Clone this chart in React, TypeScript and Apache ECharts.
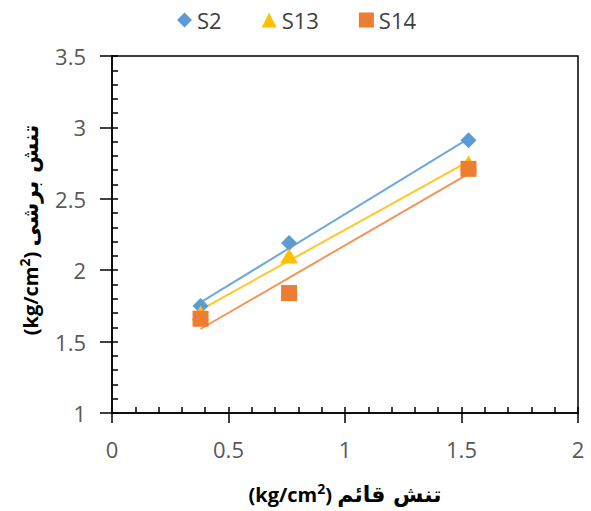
import React, { useEffect, useRef } from "react";
import * as echarts from "echarts";

const normalStress = [0.38, 0.76, 1.53];
const s2Values = [1.75, 2.19, 2.91];
const s13Values = [1.7, 2.1, 2.75];
const s14Values = [1.66, 1.84, 2.71];
const seriesNames = ["S2", "S13", "S14"];
const colors = ["#5B9BD5", "#FFC000", "#ED7D31"];
const lineColors = ["#6FA8DC", "#FFC729", "#F0955A"];
const xTitleParts = ["(kg/cm", "2", ") ", "تنش قائم"];
const yTitleParts = ["(kg/cm", "2", ") ", "تنش برشی"];

function regression(xs: number[], ys: number[]) {
  const n = xs.length;
  const mx = xs.reduce((a, b) => a + b, 0) / n;
  const my = ys.reduce((a, b) => a + b, 0) / n;
  let sxy = 0;
  let sxx = 0;
  for (let i = 0; i < n; i++) {
    sxy += (xs[i] - mx) * (ys[i] - my);
    sxx += (xs[i] - mx) * (xs[i] - mx);
  }
  const slope = sxy / sxx;
  const intercept = my - slope * mx;
  const x0 = Math.min(...xs);
  const x1 = Math.max(...xs);
  return [
    [x0, intercept + slope * x0],
    [x1, intercept + slope * x1],
  ];
}

export default function App() {
  const ref = useRef<HTMLDivElement>(null);
  useEffect(() => {
    if (!ref.current) return;
    const chart = echarts.init(ref.current, undefined, { renderer: "svg" });
    const allValues = [s2Values, s13Values, s14Values];
    const symbols = ["diamond", "triangle", "rect"];
    const sizes: any[] = [16, [18, 15], 16];
    const font = "'Open Sans', 'DejaVu Sans', sans-serif";
    const series: any[] = [];
    allValues.forEach((vals, i) => {
      series.push({
        type: "line",
        name: seriesNames[i] + " trend",
        data: regression(normalStress, vals),
        showSymbol: false,
        symbol: "none",
        lineStyle: { color: lineColors[i], width: 2 },
        z: 2,
        silent: true,
      });
    });
    allValues.forEach((vals, i) => {
      series.push({
        type: "scatter",
        name: seriesNames[i],
        data: normalStress.map((x, j) => [x, vals[j]]),
        symbol: symbols[i],
        symbolSize: sizes[i],
        itemStyle: { color: colors[i], opacity: 1 },
        z: 3 + i,
      });
    });
    const titleRich = {
      n: { fontSize: 20, fontWeight: "bold", fill: "#000", fontFamily: font },
      a: { fontSize: 22, fontWeight: "bold", fill: "#000", fontFamily: "'DejaVu Sans', sans-serif" },
      s: { fontSize: 14, fontWeight: "bold", fill: "#000", fontFamily: font, padding: [0, 0, 12, 0] },
    };
    const richText = (parts: string[]) =>
      `{n|${parts[0]}}{s|${parts[1]}}{n|${parts[2]}}{a|${parts[3]}}`;
    chart.setOption({
      animation: false,
      textStyle: { fontFamily: font },
      legend: {
        top: 4,
        left: 172,
        itemGap: 40,
        itemWidth: 15,
        itemHeight: 15,
        itemTextGap: 6,
        textStyle: { fontSize: 22, color: "#404040", fontFamily: font },
        data: seriesNames.map((n, i) => ({
          name: n,
          icon: symbols[i],
          itemStyle: { color: colors[i] },
        })),
      },
      grid: {
        left: 112,
        right: 13,
        top: 56,
        bottom: 98,
        show: true,
        borderColor: "#000",
        borderWidth: 1.5,
        containLabel: false,
      },
      xAxis: [
        {
          type: "value",
          min: 0,
          max: 2,
          interval: 0.5,
          axisLine: { show: true, onZero: false, lineStyle: { color: "#000", width: 1.5 } },
          axisTick: { show: true, length: 10, lineStyle: { color: "#000", width: 1.5 } },
          splitLine: { show: false },
          axisLabel: { fontSize: 22, color: "#595959", margin: 25, fontFamily: font },
        },
        {
          type: "value",
          min: 0,
          max: 2,
          interval: 0.1,
          position: "bottom",
          axisLine: { show: false },
          axisTick: { show: true, inside: true, length: 6, lineStyle: { color: "#000", width: 1.5 } },
          axisLabel: { show: false },
          splitLine: { show: false },
        },
      ],
      yAxis: [
        {
          type: "value",
          min: 1,
          max: 3.5,
          interval: 0.5,
          axisLine: { show: true, onZero: false, lineStyle: { color: "#000", width: 1.5 } },
          axisTick: { show: true, length: 12, lineStyle: { color: "#000", width: 1.5 } },
          splitLine: { show: false },
          axisLabel: { fontSize: 22, color: "#595959", margin: 26, fontFamily: font },
        },
        {
          type: "value",
          min: 1,
          max: 3.5,
          interval: 0.1,
          position: "left",
          axisLine: { show: false },
          axisTick: { show: true, inside: true, length: 6, lineStyle: { color: "#000", width: 1.5 } },
          axisLabel: { show: false },
          splitLine: { show: false },
        },
      ],
      graphic: [
        {
          type: "text",
          x: 345,
          y: 494,
          style: {
            text: richText(xTitleParts),
            rich: titleRich,
            align: "center",
            verticalAlign: "middle",
          },
        },
        {
          type: "text",
          x: 30,
          y: 230,
          rotation: Math.PI / 2,
          style: {
            text: richText(yTitleParts),
            rich: titleRich,
            align: "center",
            verticalAlign: "middle",
          },
        },
      ],
      series,
    });
    return () => chart.dispose();
  }, []);
  return (
    <div
      ref={ref}
      style={{ position: "fixed", left: 0, top: 0, width: 591, height: 511, background: "#fff" }}
    />
  );
}
